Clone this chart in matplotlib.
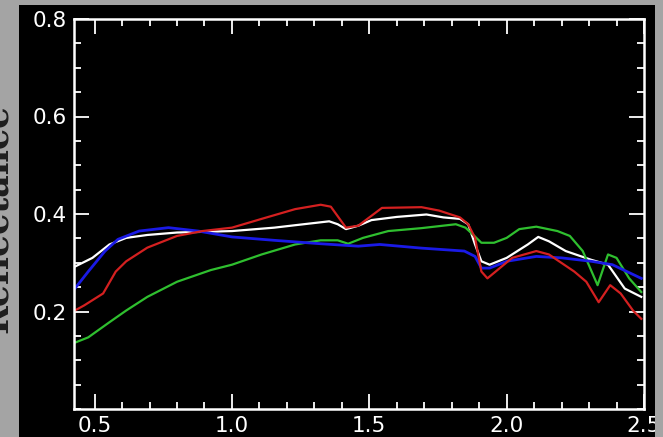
import numpy as np
import matplotlib.pyplot as plt
from matplotlib.patches import Rectangle
from matplotlib.ticker import MultipleLocator

# %% spectra (wavelength in um, reflectance)
red_x = [0.428, 0.462, 0.531, 0.577, 0.615, 0.692, 0.80, 0.892, 1.0, 1.108, 1.23, 1.323,
         1.36, 1.415, 1.46, 1.546, 1.69, 1.754, 1.83, 1.86, 1.885, 1.908, 1.93, 1.96,
         2.02, 2.108, 2.154, 2.246, 2.29, 2.335, 2.377, 2.415, 2.46, 2.49]
red_y = [0.202, 0.2125, 0.237, 0.282, 0.303, 0.331, 0.355, 0.365, 0.372, 0.39, 0.41, 0.419,
         0.415, 0.372, 0.376, 0.4125, 0.414, 0.407, 0.393, 0.379, 0.351, 0.282, 0.268, 0.282,
         0.31, 0.324, 0.317, 0.282, 0.261, 0.219, 0.254, 0.237, 0.202, 0.185]

white_x = [0.428, 0.492, 0.554, 0.615, 0.692, 0.80, 1.0, 1.154, 1.23, 1.354, 1.385, 1.415,
           1.46, 1.508, 1.60, 1.708, 1.77, 1.83, 1.86, 1.885, 1.908, 1.938, 2.0, 2.077,
           2.115, 2.154, 2.215, 2.308, 2.369, 2.43, 2.49]
white_y = [0.292, 0.31, 0.3375, 0.351, 0.357, 0.362, 0.365, 0.372, 0.377, 0.385, 0.379, 0.369,
           0.376, 0.3875, 0.394, 0.399, 0.393, 0.39, 0.379, 0.3375, 0.303, 0.296, 0.31, 0.3375,
           0.353, 0.344, 0.324, 0.306, 0.296, 0.247, 0.23]

green_x = [0.428, 0.477, 0.554, 0.615, 0.692, 0.80, 0.923, 1.0, 1.108, 1.23, 1.323, 1.385,
           1.423, 1.477, 1.569, 1.69, 1.815, 1.85, 1.877, 1.908, 1.954, 2.0, 2.046, 2.108,
           2.185, 2.23, 2.277, 2.331, 2.369, 2.4, 2.446, 2.49]
green_y = [0.136, 0.147, 0.178, 0.202, 0.23, 0.261, 0.285, 0.296, 0.317, 0.3375, 0.346, 0.346,
           0.339, 0.351, 0.365, 0.371, 0.379, 0.372, 0.358, 0.341, 0.341, 0.351, 0.369, 0.374,
           0.365, 0.355, 0.324, 0.254, 0.317, 0.31, 0.268, 0.24]

blue_x = [0.428, 0.477, 0.538, 0.585, 0.662, 0.769, 0.877, 1.0, 1.154, 1.323, 1.46, 1.538,
          1.69, 1.846, 1.885, 1.908, 1.938, 2.0, 2.108, 2.2, 2.308, 2.385, 2.49]
blue_y = [0.247, 0.282, 0.324, 0.348, 0.365, 0.372, 0.365, 0.353, 0.346, 0.339, 0.334, 0.3375,
          0.33, 0.324, 0.313, 0.289, 0.289, 0.303, 0.313, 0.31, 0.303, 0.296, 0.268]

x_ticks = [0.5, 1.0, 1.5, 2.0, 2.5]
y_ticks = [0.2, 0.4, 0.6, 0.8]

# %% figure
W, H = 663, 437
fig = plt.figure(figsize=(W / 100, H / 100), dpi=100)
fig.patch.set_facecolor('#a4a4a4')
fig.patches.append(Rectangle((19 / W, 0), (655 - 19) / W, (H - 5) / H,
                             transform=fig.transFigure, facecolor='black',
                             edgecolor='none', zorder=-1))

ax = fig.add_axes([74 / W, (H - 409) / H, (644 - 74) / W, (409 - 19) / H])
ax.set_facecolor('black')

ax.plot(white_x, white_y, color='white', lw=1.6)
ax.plot(green_x, green_y, color='#2fbf2f', lw=1.6)
ax.plot(blue_x, blue_y, color='#1a1ae6', lw=2.0)
ax.plot(red_x, red_y, color='#d42020', lw=1.6)

ax.set_xlim(0.425, 2.5)
ax.set_ylim(0.0, 0.8)
ax.set_xticks(x_ticks)
ax.set_xticklabels(['0.5', '1.0', '1.5', '2.0', '2.5'])
ax.set_yticks(y_ticks)
ax.set_yticklabels(['0.2', '0.4', '0.6', '0.8'])
ax.xaxis.set_minor_locator(MultipleLocator(0.1))
ax.yaxis.set_minor_locator(MultipleLocator(0.05))

ax.tick_params(which='both', direction='in', top=True, right=True,
               color='white', width=1.3, labelcolor='white', labelsize=15.5)
ax.tick_params(which='major', length=11, pad=5)
ax.tick_params(which='minor', length=5)
for s in ax.spines.values():
    s.set_color('white')
    s.set_linewidth(1.8)

# grey strip on the right covers the clipped 2.5 label
fig.add_artist(Rectangle((655 / W, 0), (W - 655) / W, 1, transform=fig.transFigure,
                         facecolor='#a4a4a4', edgecolor='none', zorder=10))

# y label, mostly cut off by the left edge
fig.text(-3 / W, 0.5, 'Reflectance', rotation=90, ha='center', va='center',
         fontsize=25, fontweight='bold', family='DejaVu Serif', color='#1e1e1e')

fig.savefig('out.png', dpi=100, facecolor=fig.get_facecolor())
